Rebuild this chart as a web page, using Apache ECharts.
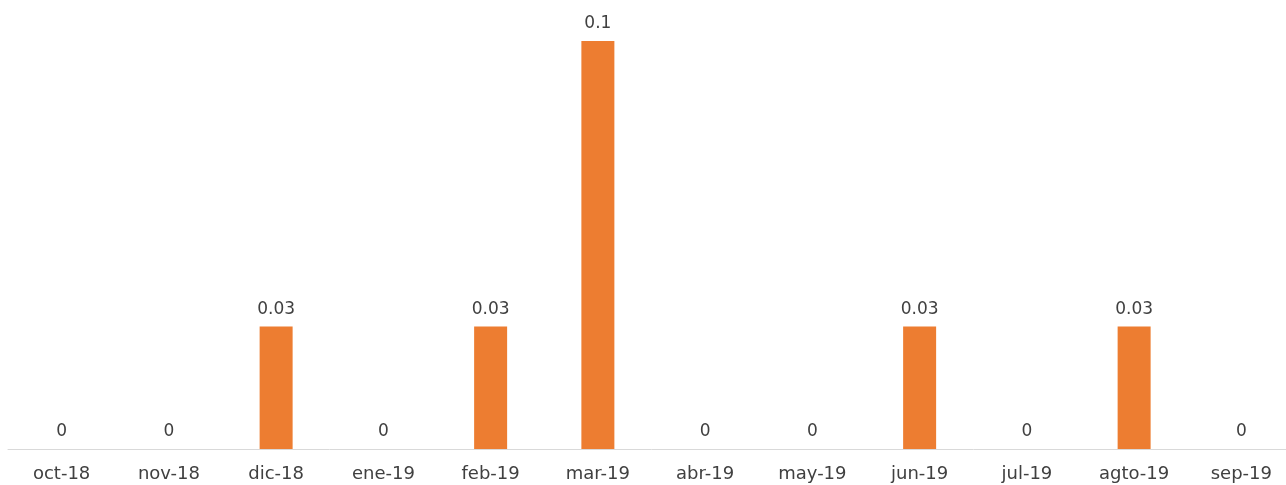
<!DOCTYPE html>
<html>
<head>
<meta charset="utf-8">
<script src="https://cdn.jsdelivr.net/npm/echarts@6/dist/echarts.min.js"></script>
<style>
html,body{margin:0;padding:0;background:#fff;overflow:hidden;}
#chart{width:1295px;height:485px;}
</style>
</head>
<body>
<div id="chart"></div>
<script>
const categories = ['oct-18','nov-18','dic-18','ene-19','feb-19','mar-19','abr-19','may-19','jun-19','jul-19','agto-19','sep-19'];
const values = [0, 0, 0.03, 0, 0.03, 0.1, 0, 0, 0.03, 0, 0.03, 0];

const chart = echarts.init(document.getElementById('chart'));
chart.setOption({
  animation: false,
  backgroundColor: '#ffffff',
  grid: { left: 8, top: 41, right: 0, bottom: 36, containLabel: false },
  xAxis: {
    type: 'category',
    data: categories,
    axisLine: { show: true, lineStyle: { color: '#d9d9d9', width: 1 } },
    axisTick: { show: false },
    axisLabel: { color: '#404040', fontSize: 18, fontFamily: 'DejaVu Sans', margin: 16, interval: 0 }
  },
  yAxis: {
    type: 'value',
    min: 0,
    max: 0.1,
    show: false,
    splitLine: { show: false }
  },
  series: [{
    type: 'bar',
    data: values,
    barWidth: 33,
    itemStyle: { color: '#ED7D31' },
    label: {
      show: true,
      position: 'top',
      distance: 9,
      color: '#404040',
      fontSize: 17,
      fontFamily: 'DejaVu Sans'
    }
  }]
});
</script>
</body>
</html>
